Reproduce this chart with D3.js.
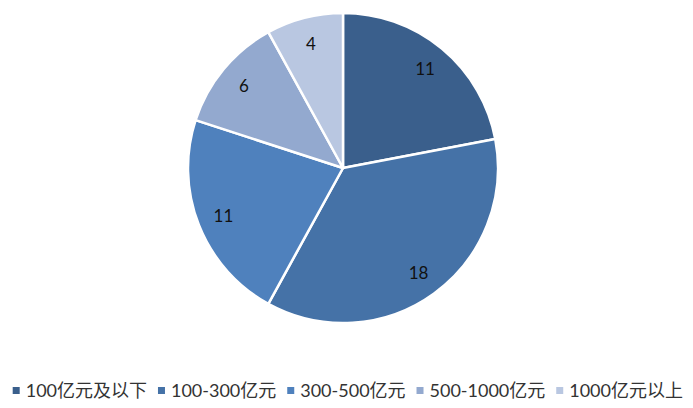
<!DOCTYPE html>
<html><head><meta charset="utf-8">
<script src="https://cdn.jsdelivr.net/npm/d3@7"></script>
<style>body{margin:0;background:#fff}svg{display:block}</style>
</head><body>
<svg id="chart" width="693" height="408"></svg>
<script>
const categories = ["100亿元及以下", "100-300亿元", "300-500亿元", "500-1000亿元", "1000亿元以上"];
const values = [11, 18, 11, 6, 4];
const colors = ["#3A5F8C", "#4572A7", "#4F81BD", "#93A9CF", "#B9C7E1"];

const svg = d3.select("#chart");
const cx = 343, cy = 168, R = 155;
const font = 'Lato, "Noto Sans CJK SC", sans-serif';

const pie = d3.pie().sort(null).value(d => d)(values);
const arc = d3.arc().innerRadius(0).outerRadius(R);
const labelArc = d3.arc().innerRadius(R * 0.83).outerRadius(R * 0.83);
const color = d3.scaleOrdinal().domain(categories).range(colors);

const g = svg.append("g").attr("transform", `translate(${cx},${cy})`);
g.selectAll("path").data(pie).join("path")
  .attr("d", arc)
  .attr("fill", (d, i) => color(categories[i]))
  .attr("stroke", "#fff").attr("stroke-width", 2.5).attr("stroke-linejoin", "round");

g.selectAll("text").data(pie).join("text")
  .attr("transform", d => `translate(${labelArc.centroid(d)})`)
  .attr("text-anchor", "middle").attr("dominant-baseline", "central")
  .attr("font-family", font).attr("font-size", 17).attr("fill", "#111")
  .text(d => d.value);

// legend
const lg = svg.append("g");
const items = lg.selectAll("g").data(categories).join("g");
items.append("rect").attr("width", 7).attr("height", 7).attr("y", 387)
  .attr("fill", d => color(d));
items.append("text").attr("x", 13).attr("y", 397)
  .attr("font-family", font).attr("font-size", 18).attr("fill", "#333")
  .text(d => d);
const widths = [];
items.each(function() { widths.push(this.querySelector("text").getComputedTextLength() + 13); });
const left = 12.7, right = 683;
const gap = (right - left - d3.sum(widths)) / (categories.length - 1);
let x = left;
items.attr("transform", (d, i) => { const t = `translate(${x},0)`; x += widths[i] + gap; return t; });
</script>
</body></html>
